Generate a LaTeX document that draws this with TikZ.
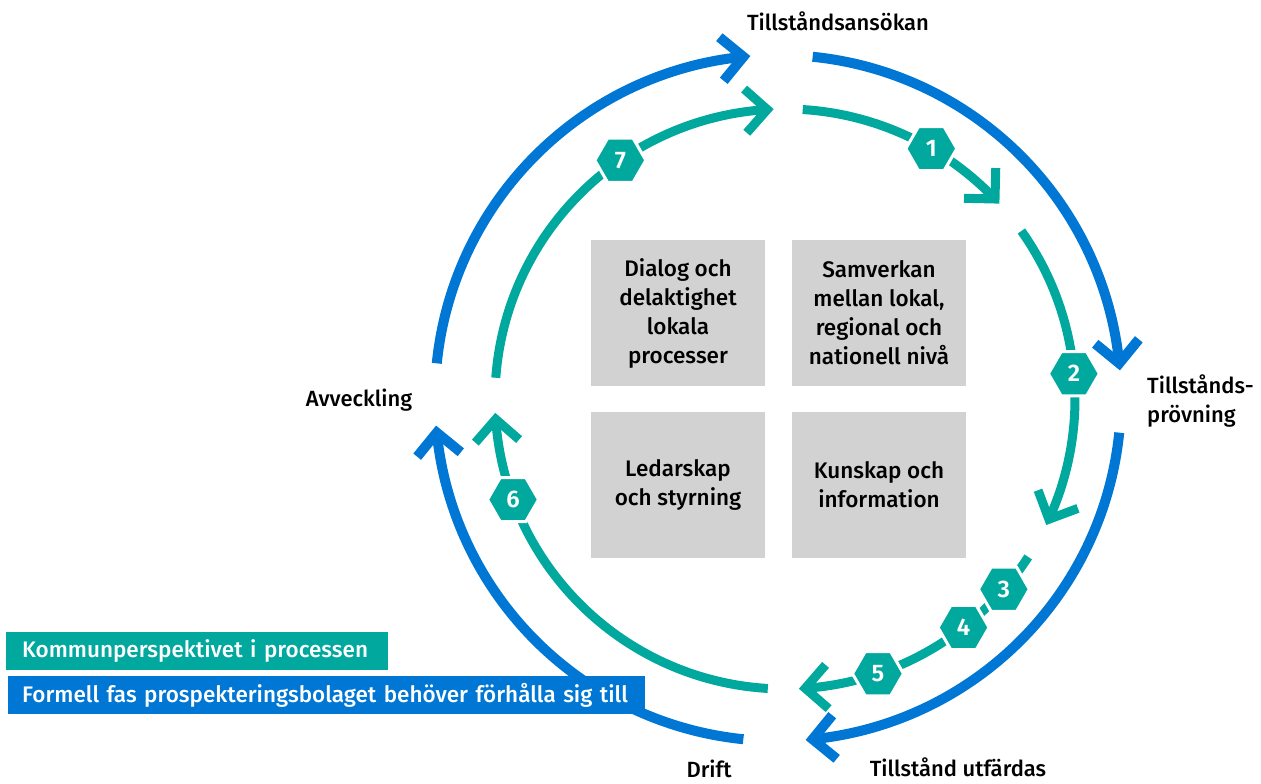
\documentclass[tikz,border=0pt]{standalone}
\usepackage{fontspec}
\IfFontExistsTF{Fira Sans Medium}{\setmainfont{Fira Sans Medium}[BoldFont={Fira Sans SemiBold}]}{\setmainfont{Fira Sans}}
\usetikzlibrary{shapes.geometric,calc}
\definecolor{cblue}{RGB}{0,119,212}
\definecolor{cteal}{RGB}{0,168,158}
\definecolor{cgray}{RGB}{210,210,210}
\newcommand{\cyclearc}[5]{%
  \draw[#1] ($(#2)+(#4:#3)$) arc[start angle=#4,end angle=#5,radius=#3];
  \coordinate (tip) at ($(#2)+(#5:#3)$);
  \draw[#1,line join=miter] ($(tip)+(#5+45:31pt)$) -- (tip) -- ($(tip)+(#5+135:31pt)$);
}
\begin{document}
\begin{tikzpicture}[x=1pt,y=1pt,
  bluearc/.style={draw=cblue,line width=10pt},
  tealarc/.style={draw=cteal,line width=9pt},
  hexnode/.style={regular polygon,regular polygon sides=6,minimum size=51pt,inner sep=0pt,fill=cteal,draw=white,line width=3pt,text=white,font=\fontsize{24}{24}\selectfont\bfseries},
  themebox/.style={fill=cgray,minimum width=174pt,minimum height=146pt,inner sep=0pt,align=center,font=\fontsize{22.5}{29}\selectfont},
  phaselabel/.style={font=\fontsize{22}{29}\selectfont,inner sep=0pt},
  legendbox/.style={anchor=west,minimum height=38pt,inner ysep=0pt,align=left,text=white,font=\fontsize{22.5}{24}\selectfont}
]
\useasboundingbox (0,0) rectangle (1261,784);
\coordinate (B) at (778,386);
\coordinate (T) at (785,385);

% outer blue cycle
\cyclearc{bluearc}{B}{343pt}{84.2}{5.8}
\cyclearc{bluearc}{B}{343pt}{-5.8}{-84.2}
\cyclearc{bluearc}{B}{343pt}{-95.8}{-174.2}
\cyclearc{bluearc}{B}{343pt}{174.2}{95.8}

% inner teal cycle
\cyclearc{tealarc}{T}{290pt}{86.5}{43.6}
\cyclearc{tealarc}{T}{290pt}{35.4}{-24.5}
\cyclearc{tealarc}{T}{290pt}{-33}{-86}
\cyclearc{tealarc}{T}{290pt}{-93.4}{-176}
\cyclearc{tealarc}{T}{290pt}{175.8}{93.5}

% step hexagons
\node[hexnode] (h1) at ($(T)+(59.7:290pt)$) {1};
\node[hexnode] (h2) at ($(T)+(5:290pt)$) {2};
\node[hexnode] (h3) at ($(T)+(-41:290pt)$) {3};
\node[hexnode] (h4) at ($(T)+(-52:290pt)$) {4};
\node[hexnode] (h5) at ($(T)+(-71.3:290pt)$) {5};
\node[hexnode] (h6) at ($(T)+(-159.7:290pt)$) {6};
\node[hexnode] (h7) at ($(T)+(124.6:290pt)$) {7};

% phase labels
\node[phaselabel,anchor=base] (ansokan) at (838,753) {Tillståndsansökan};
\node[phaselabel,anchor=west,align=left] (provning) at (1147,383) {Tillstånds-\\prövning};
\node[phaselabel,anchor=base] (utfardas) at (958,7) {Tillstånd utfärdas};
\node[phaselabel,anchor=base] (drift) at (709,6) {Drift};
\node[phaselabel,anchor=base] (avveckling) at (359,377) {Avveckling};

% theme boxes
\node[themebox] (dialog) at (678,471) {Dialog och\\delaktighet\\lokala\\processer};
\node[themebox] (samverkan) at (879,471) {Samverkan\\mellan lokal,\\regional och\\nationell nivå};
\node[themebox] (ledarskap) at (678,299) {Ledarskap\\och styrning};
\node[themebox] (kunskap) at (879,299) {Kunskap och\\information};

% legend
\node[legendbox,fill=cteal,text width=350pt,inner xsep=16pt] (kommun) at (6,133) {Kommunperspektivet i processen};
\node[legendbox,fill=cblue,text width=609pt,inner xsep=14pt] (formell) at (8,89) {Formell fas prospekteringsbolaget behöver förhålla sig till};
\end{tikzpicture}
\end{document}
